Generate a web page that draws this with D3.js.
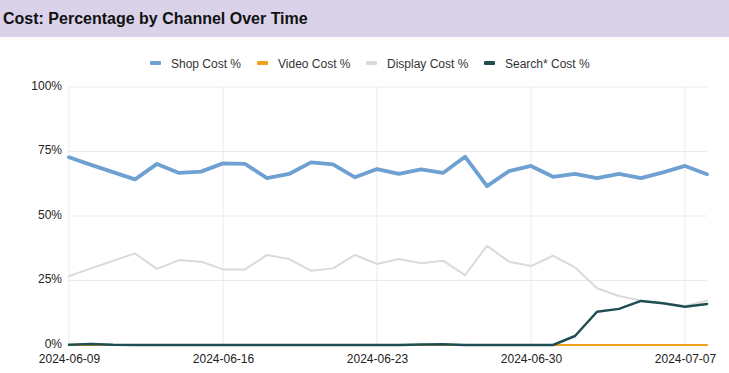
<!DOCTYPE html>
<html>
<head>
<meta charset="utf-8" />
<script src="https://d3js.org/d3.v7.min.js"></script>
<style>
  body { margin: 0; background: #fff; font-family: Arial, "Liberation Sans", sans-serif; }
</style>
</head>
<body>
<svg id="chart"></svg>
<script>
// data, one point per day starting 2024-06-09
var startDate = "2024-06-09";
var tickDates = ["2024-06-09", "2024-06-16", "2024-06-23", "2024-06-30", "2024-07-07"];
var yTicks = [0, 25, 50, 75, 100];
var seriesNames = ["Shop Cost %", "Video Cost %", "Display Cost %", "Search* Cost %"];
var seriesColors = ["#6fa0d2", "#f0a01c", "#dadada", "#1f4e52"];

var shop = [72.8, 69.8, 67.0, 64.2, 70.2, 66.7, 67.2, 70.4, 70.2, 64.7,
            66.3, 70.8, 70.0, 65.0, 68.2, 66.3, 68.1, 66.7, 73.0, 61.6,
            67.4, 69.4, 65.2, 66.3, 64.7, 66.3, 64.7, 66.9, 69.4, 66.2];
var video = [0, 0, 0, 0, 0, 0, 0, 0, 0, 0,
             0, 0, 0, 0, 0, 0, 0, 0, 0, 0,
             0, 0, 0, 0, 0, 0, 0, 0, 0, 0];
var display = [26.7, 29.7, 32.6, 35.5, 29.5, 32.9, 32.3, 29.3, 29.3, 34.9,
               33.3, 28.8, 29.7, 34.9, 31.4, 33.3, 31.7, 32.7, 27.1, 38.4,
               32.3, 30.6, 34.6, 30.1, 22.0, 19.0, 17.2, 16.2, 15.1, 17.2];
var search = [0.1, 0.4, 0.1, 0, 0, 0, 0, 0, 0, 0,
              0, 0, 0, 0, 0, 0, 0.2, 0.3, 0, 0,
              0, 0, 0, 3.5, 12.9, 14.0, 17.1, 16.2, 14.8, 15.9];

var W = 729, H = 373;
var svg = d3.select("#chart").attr("width", W).attr("height", H);

// title bar
svg.append("rect").attr("x", 0).attr("y", 0).attr("width", W).attr("height", 37).attr("fill", "#d9d2e9");
svg.append("text").attr("x", 3).attr("y", 24)
    .style("font-size", "16px").style("font-weight", "bold").attr("fill", "#111")
    .text("Cost: Percentage by Channel Over Time");

var parse = d3.timeParse("%Y-%m-%d");
var d0 = parse(startDate);
var dates = shop.map(function (v, i) { return d3.timeDay.offset(d0, i); });

var x = d3.scaleTime().domain([dates[0], dates[dates.length - 1]]).range([69, 707]);
var y = d3.scaleLinear().domain([0, 100]).range([345, 87]);

// gridlines
var grid = svg.append("g");
grid.selectAll(".hg").data(yTicks).enter().append("line")
    .attr("x1", 69).attr("x2", 707)
    .attr("y1", function (d) { return y(d); }).attr("y2", function (d) { return y(d); })
    .attr("stroke", "#ebebeb").attr("stroke-width", 1);
grid.selectAll(".vg").data(tickDates).enter().append("line")
    .attr("x1", function (d) { return x(parse(d)); }).attr("x2", function (d) { return x(parse(d)); })
    .attr("y1", 87).attr("y2", 345)
    .attr("stroke", "#ebebeb").attr("stroke-width", 1);

// axes
var yAxis = d3.axisLeft(y).tickValues(yTicks).tickSize(0).tickPadding(0)
    .tickFormat(function (d) { return d + "%"; });
var gy = svg.append("g").attr("transform", "translate(62,-1.5)").call(yAxis);
gy.select(".domain").remove();
gy.selectAll("text").style("font-size", "12px").style("font-family", "Arial, 'Liberation Sans', sans-serif")
    .attr("fill", "#222").attr("dy", "0.32em");

var xAxis = d3.axisBottom(x).tickValues(tickDates.map(parse)).tickSize(0).tickPadding(0)
    .tickFormat(d3.timeFormat("%Y-%m-%d"));
var gx = svg.append("g").attr("transform", "translate(0,354)").call(xAxis);
gx.select(".domain").remove();
gx.selectAll("text").style("font-size", "12px").style("font-family", "Arial, 'Liberation Sans', sans-serif")
    .attr("fill", "#222").attr("dy", "0.71em");

// lines
var allSeries = [shop, video, display, search];
var widths = [3.8, 2, 2, 2.5];
var line = d3.line()
    .x(function (d, i) { return x(dates[i]); })
    .y(function (d) { return y(d); });
[2, 0, 1, 3].forEach(function (k) {
    svg.append("path").datum(allSeries[k])
        .attr("d", line)
        .attr("fill", "none")
        .attr("stroke", seriesColors[k])
        .attr("stroke-width", widths[k])
        .attr("stroke-linejoin", "round")
        .attr("stroke-linecap", "round");
});

// legend
var legendX = [150, 257, 366, 484];
var lg = svg.append("g");
seriesNames.forEach(function (name, k) {
    lg.append("rect").attr("x", legendX[k]).attr("y", 61).attr("width", 11).attr("height", 4)
        .attr("rx", 1).attr("fill", seriesColors[k]);
    lg.append("text").attr("x", legendX[k] + 21).attr("y", 67.5)
        .style("font-size", "12px").attr("fill", "#333").text(name);
});
</script>
</body>
</html>
